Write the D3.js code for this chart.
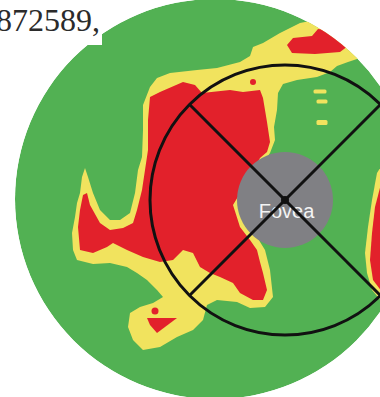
<!DOCTYPE html>
<html>
<head>
<meta charset="utf-8">
<script src="https://cdn.jsdelivr.net/npm/d3@7"></script>
<style>
  html, body { margin: 0; padding: 0; background: #fff; }
  svg { display: block; }
</style>
</head>
<body>
<svg id="map" width="380" height="397"></svg>
<script>
// Thickness deviation map around the fovea. Coordinates are scan units
// (x to the right, y downward), the fovea at the origin.

const fieldCenter = [-7.0, -0.1];
const fieldRadius = 20.0;
const foveaRadius = 4.8;
const ringRadius = 13.5;
const spokeAngles = [45, 135, 225, 315];
const foveaLabel = "Fovea";
const headerText = "872589,";

// borderline (yellow) zone that surrounds the main thinning area
const borderlineMain = [
  [-14.2,-9.5],[-13.5,-11.3],[-12.8,-12.2],[-11.5,-12.7],[-8.8,-13.0],[-6.8,-13.2],
  [-4.5,-13.8],[-3.5,-14.4],[-3.2,-15.3],[-2.2,-15.7],[-0.5,-16.7],[0.5,-17.2],
  [1.5,-17.7],[2.5,-17.9],[3.5,-17.4],[4.5,-16.9],[5.8,-16.3],[6.8,-15.2],
  [7.5,-14.2],[6.3,-13.8],[5.2,-13.4],[4.5,-12.8],[3.2,-12.3],[1.2,-12.0],
  [-0.2,-11.6],[-0.7,-10.7],[-0.8,-9.0],[-1.1,-7.3],[-1.0,-6.0],[-1.5,-4.7],
  [-2.3,-3.5],[-3.5,-1.5],[-4.5,0.3],[-3.8,2.5],[-2.8,3.7],[-2.0,5.0],
  [-1.5,7.0],[-1.2,9.7],[-2.0,10.7],[-3.5,10.8],[-4.8,10.2],[-6.8,10.0],
  [-7.8,10.5],[-8.2,12.0],[-9.2,13.0],[-10.8,13.7],[-12.5,14.7],[-14.2,15.0],
  [-15.2,14.0],[-15.7,12.7],[-15.5,11.3],[-14.5,10.7],[-13.2,10.3],[-12.2,9.7],
  [-12.8,9.0],[-13.8,8.0],[-14.8,7.3],[-15.8,6.7],[-17.5,6.3],[-19.2,6.4],
  [-20.8,6.0],[-21.2,5.0],[-21.3,3.3],[-21.0,1.7],[-20.8,0.3],[-20.5,-0.7],
  [-20.3,-2.3],[-20.0,-3.2],[-19.7,-2.3],[-19.2,-0.7],[-18.5,1.0],[-17.5,2.0],
  [-16.5,2.0],[-15.5,1.3],[-15.0,-0.7],[-14.7,-3.0],[-14.3,-4.3],[-14.2,-7.0]
];

// thinning (red) area left of the fovea
const thinningMain = [
  [-13.5,-10.3],[-12.5,-10.8],[-10.2,-11.8],[-9.0,-11.5],[-8.3,-10.7],[-5.5,-11.0],
  [-4.2,-10.8],[-2.5,-11.0],[-2.2,-10.2],[-1.8,-7.8],[-1.5,-5.8],[-1.8,-4.8],
  [-2.5,-4.2],[-3.0,-3.2],[-4.0,-1.5],[-5.2,0.5],[-4.5,2.7],[-3.5,4.0],
  [-2.8,5.0],[-2.5,6.2],[-2.2,7.3],[-1.8,9.0],[-2.2,10.0],[-3.2,10.0],
  [-4.5,9.3],[-5.2,8.3],[-6.5,7.7],[-7.5,7.3],[-8.5,6.7],[-9.2,5.3],
  [-10.2,5.0],[-11.2,6.0],[-12.5,6.2],[-14.2,5.7],[-15.8,5.0],[-17.2,4.3],
  [-17.8,4.7],[-19.2,5.3],[-20.5,5.0],[-20.7,2.7],[-20.5,1.0],[-20.2,-0.5],
  [-19.8,-0.7],[-19.5,0.5],[-18.5,2.3],[-17.5,3.0],[-16.2,2.8],[-15.2,2.3],
  [-14.8,1.0],[-14.3,-1.0],[-14.0,-3.0],[-13.7,-5.0],[-13.7,-8.0]
];

// superior thinning patch
const thinningSuperior = [
  [0.2,-15.5],[0.8,-16.2],[2.7,-16.4],[3.3,-17.1],[4.3,-17.0],[4.7,-16.4],
  [6.0,-16.0],[6.3,-15.4],[5.5,-14.8],[3.0,-14.6],[0.7,-14.7]
];

// small inferior thinning patch
const thinningInferior = [
  [-13.8,11.8],[-10.8,11.8],[-12.8,13.3],[-13.5,12.5]
];

// temporal edge: borderline rim and thinning
const borderlineTemporal = [
  [9.7,-3.5],[9.2,-2.7],[8.7,0.0],[8.3,2.7],[8.0,5.3],[8.2,7.3],[8.7,9.0],[9.7,10.2]
];
const thinningTemporal = [
  [9.7,-2.0],[9.0,0.7],[8.7,3.3],[8.5,6.0],[8.8,8.0],[9.7,9.2]
];

// isolated borderline flecks [cx, cy, width, height]
const borderlineFlecks = [
  [3.5,-10.85,1.3,0.4],[3.7,-9.85,1.1,0.4],[3.7,-7.75,1.1,0.5]
];
// isolated thinning dots [cx, cy, r]
const thinningDots = [
  [-3.2,-11.8,0.3],[-13.0,11.1,0.35]
];

const colors = {
  normal: "#52b153",
  borderline: "#f1e35e",
  thinning: "#e2212b",
  fovea: "#808084",
  ink: "#111111"
};

const svg = d3.select("#map");
const W = 380, H = 397;

const x = d3.scaleLinear().domain([-28.5, 9.5]).range([0, W]);
const y = d3.scaleLinear().domain([-20, 19.7]).range([0, H]);
const len = d => x(d) - x(0);

const area = d3.line().x(d => x(d[0])).y(d => y(d[1])).curve(d3.curveLinearClosed);

svg.append("defs").append("clipPath").attr("id", "field")
  .append("circle")
  .attr("cx", x(fieldCenter[0])).attr("cy", y(fieldCenter[1])).attr("r", len(fieldRadius));

svg.append("rect").attr("width", W).attr("height", H).attr("fill", "#fff");

const field = svg.append("g").attr("clip-path", "url(#field)");

field.append("circle")
  .attr("cx", x(fieldCenter[0])).attr("cy", y(fieldCenter[1])).attr("r", len(fieldRadius))
  .attr("fill", colors.normal);

field.selectAll("path.borderline")
  .data([borderlineMain, borderlineTemporal])
  .join("path").attr("class", "borderline")
  .attr("d", area).attr("fill", colors.borderline);

field.selectAll("rect.fleck")
  .data(borderlineFlecks)
  .join("rect").attr("class", "fleck")
  .attr("x", d => x(d[0] - d[2] / 2)).attr("y", d => y(d[1] - d[3] / 2))
  .attr("width", d => len(d[2])).attr("height", d => len(d[3]))
  .attr("rx", 1.5).attr("fill", colors.borderline);

field.selectAll("path.thinning")
  .data([thinningMain, thinningSuperior, thinningInferior, thinningTemporal])
  .join("path").attr("class", "thinning")
  .attr("d", area).attr("fill", colors.thinning);

field.selectAll("circle.dot")
  .data(thinningDots)
  .join("circle").attr("class", "dot")
  .attr("cx", d => x(d[0])).attr("cy", d => y(d[1])).attr("r", d => len(d[2]))
  .attr("fill", colors.thinning);

// fovea disc and label
field.append("circle")
  .attr("cx", x(0)).attr("cy", y(0)).attr("r", len(foveaRadius))
  .attr("fill", colors.fovea);

field.append("text")
  .attr("x", x(0.15)).attr("y", y(1.8))
  .attr("text-anchor", "middle")
  .attr("font-family", "'Liberation Sans', Arial, sans-serif")
  .attr("font-size", 20)
  .attr("fill", "#f4f4f4")
  .text(foveaLabel);

// measurement ring with diagonal spokes
field.append("circle")
  .attr("cx", x(0)).attr("cy", y(0)).attr("r", len(ringRadius))
  .attr("fill", "none").attr("stroke", colors.ink).attr("stroke-width", 3);

field.selectAll("line.spoke")
  .data(spokeAngles)
  .join("line").attr("class", "spoke")
  .attr("x1", x(0)).attr("y1", y(0))
  .attr("x2", a => x(ringRadius * Math.cos(a * Math.PI / 180)))
  .attr("y2", a => y(ringRadius * Math.sin(a * Math.PI / 180)))
  .attr("stroke", colors.ink).attr("stroke-width", 3);

field.append("circle")
  .attr("cx", x(0)).attr("cy", y(0)).attr("r", 4)
  .attr("fill", colors.ink);

// caption fragment in the upper-left corner
svg.append("rect").attr("x", 0).attr("y", 0).attr("width", 102).attr("height", 45).attr("fill", "#fff");
svg.append("text")
  .attr("x", 100).attr("y", 31)
  .attr("text-anchor", "end")
  .attr("font-family", "'Liberation Serif', 'Times New Roman', serif")
  .attr("font-size", 32)
  .attr("fill", "#2b2b2b")
  .text(headerText);
</script>
</body>
</html>
